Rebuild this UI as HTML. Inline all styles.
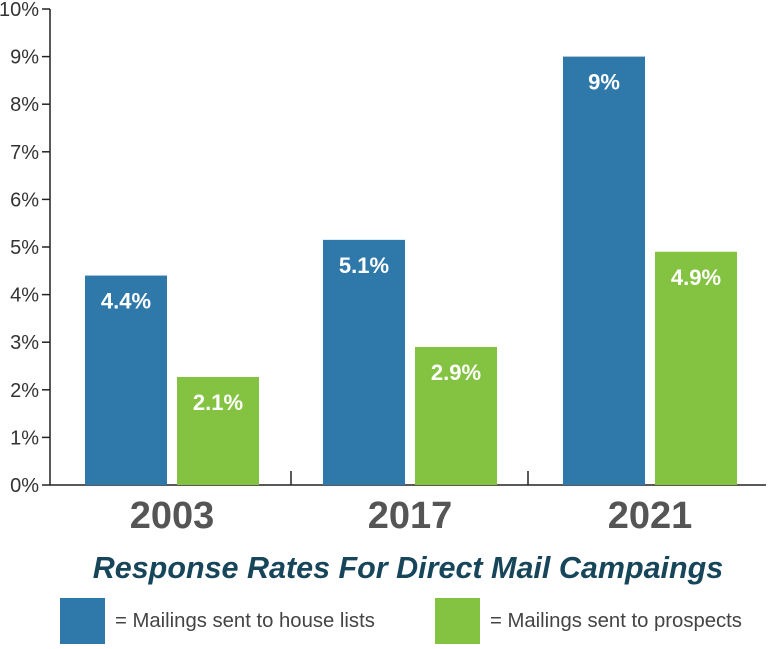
<!DOCTYPE html>
<html><head><meta charset="utf-8"><style>
body{margin:0;background:#fff;width:768px;height:644px;overflow:hidden;font-family:"Liberation Sans",sans-serif}
</style></head><body>
<svg width="768" height="644" id="c">
<g id="axes"></g>
<g id="bars"></g>
<text x="408" y="578" text-anchor="middle" font-size="30.5" font-weight="bold" font-style="italic" fill="#17465a">Response Rates For Direct Mail Campaings</text>
<rect x="60" y="598" width="45" height="46" fill="#2e78aa"/>
<text x="115" y="627" font-size="20.3" fill="#444">= Mailings sent to house lists</text>
<rect x="435" y="598" width="45" height="46" fill="#84c341"/>
<text x="490" y="627" font-size="20.3" fill="#444">= Mailings sent to prospects</text>
</svg>
<script>
const categories=["2003","2017","2021"];
const houseValues=[4.4,5.15,9];
const prospectValues=[2.27,2.9,4.9];
const houseLabels=["4.4%","5.1%","9%"];
const prospectLabels=["2.1%","2.9%","4.9%"];
const yTicks=[0,1,2,3,4,5,6,7,8,9,10];
const NS="http://www.w3.org/2000/svg";
const y0=485,pxPer=47.6;
function y(v){return y0-v*pxPer;}
const groupX=[85,323,563],bw=82,gap=10;
function mk(t,a,p){const e=document.createElementNS(NS,t);for(const k in a)e.setAttribute(k,a[k]);p.appendChild(e);return e;}
const ax=document.getElementById('axes'),bg=document.getElementById('bars');
const yl=mk('line',{x1:50,y1:y(10),x2:50,y2:y0,stroke:'#222','stroke-width':1.5},ax);


const xl=mk('line',{x1:50,y1:y0,x2:766,y2:y0,stroke:'#222','stroke-width':1.5},ax);


yTicks.forEach(t=>{
 const l=mk('line',{x1:42,y1:y(t),x2:50,y2:y(t),stroke:'#222','stroke-width':1.5},ax);
 
 
 const tx=mk('text',{x:39,y:y(t)+7,'text-anchor':'end','font-size':20,fill:'#333'},ax);
 tx.textContent=t+'%';
 
 
});
[291,528].forEach(x=>{
 const l=mk('line',{x1:x,y1:y0-14,x2:x,y2:y0,stroke:'#222','stroke-width':1.5},ax);
 
 
});
categories.forEach((c,i)=>{
 const gx=groupX[i];
 [[houseValues[i],houseLabels[i],'#2e78aa',gx,'house'],[prospectValues[i],prospectLabels[i],'#84c341',gx+bw+gap,'prospects']].forEach(([v,lab,col,x,s])=>{
  const r=mk('rect',{x:x,y:y(v),width:bw,height:y0-y(v),fill:col},bg);
  
  
  const t=mk('text',{x:x+bw/2,y:y(v)+33,'text-anchor':'middle','font-size':22,'font-weight':'bold',fill:'#fff'},bg);
  t.textContent=lab;
  
  
 });
 const ct=mk('text',{x:gx+bw+gap/2,y:528,'text-anchor':'middle','font-size':38,'font-weight':'bold',fill:'#555'},bg);
 ct.textContent=c;
 
 
});
</script>
</body></html>
